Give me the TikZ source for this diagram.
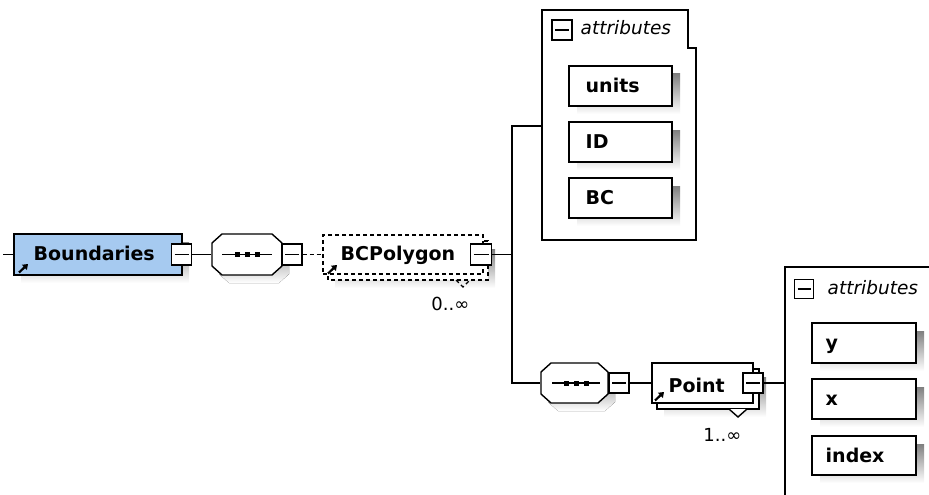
\documentclass[tikz,border=0pt]{standalone}
\usepackage{fontspec}
\setmainfont{DejaVu Sans}
\usetikzlibrary{arrows.meta}
\definecolor{elblue}{RGB}{166,202,240}
\definecolor{shade}{RGB}{190,190,190}
\begin{document}
\begin{tikzpicture}[x=1pt,y=-1pt, line width=1.4pt,
  box/.style={draw, rectangle, inner sep=0pt, fill=white},
  minusbox/.style={draw, fill=white, inner sep=0pt, minimum width=20, minimum height=21, line width=1.3pt,
    path picture={\draw[line width=1.3pt] ([xshift=3pt]path picture bounding box.west) -- ([xshift=-3pt]path picture bounding box.east);}},
  lbl/.style={font=\bfseries\fontsize{19}{22}\selectfont, inner sep=0pt, anchor=base west},
  ital/.style={font=\itshape\fontsize{18.5}{22}\selectfont, inner sep=0pt, anchor=base west},
  card/.style={font=\fontsize{18}{22}\selectfont, inner sep=0pt, anchor=base east},
  seqdot/.style={fill=black, draw=none, minimum size=5, inner sep=0pt},
  refarrow/.style={line width=2.2pt, -{Triangle[length=5pt,width=7pt]}},
  dsh/.style={dash pattern=on 4pt off 3pt},
  holder/.style={draw=none, inner sep=0pt}
]
\useasboundingbox (0,0) rectangle (929,495);
\clip (0,0) rectangle (929,495);

% ---- Boundaries
\fill[shade] (21,242) rectangle (189,283);
\node[box, fill=elblue, minimum width=168, minimum height=41, line width=1.5pt] (bnd) at (98,254.5) {};
\node[lbl] (bndt) at (33,260) {Boundaries};
\draw[refarrow] (19,272.5) -- (28,264);
\node[minusbox] (bndm) at (181.5,254.5) {};
\coordinate (start) at (3,254.5);
\draw (start) -- (bnd.west);

% ---- sequence 1
\fill[shade] (229,242) -- (279,242) -- (289,251) -- (289,274) -- (279,283) -- (229,283) -- (219,274) -- (219,251) -- cycle;
\draw[fill=white] (222,234) -- (272,234) -- (282,243) -- (282,266) -- (272,275) -- (222,275) -- (212,266) -- (212,243) -- cycle;
\node[holder, minimum width=70, minimum height=41] (seq1) at (247,254.5) {};
\draw (222,254.5) -- (272,254.5);
\node[seqdot] (s1a) at (237,254.5) {};
\node[seqdot] (s1b) at (247,254.5) {};
\node[seqdot] (s1c) at (257,254.5) {};
\node[minusbox] (seq1m) at (292,254.5) {};
\draw (bndm.east) -- (seq1.west);

% ---- BCPolygon
\fill[shade] (335,249) rectangle (495,288);
\draw[dsh, fill=white] (328,241) rectangle (488,280);
\node[box, dsh, minimum width=160, minimum height=39] (bcp) at (403,254.5) {};
\draw[dsh] (456,280) -- (463,287) -- (470,280);
\node[lbl] (bcpt) at (340,260) {BCPolygon};
\draw[refarrow] (328,273.5) -- (337,265);
\node[minusbox, minimum width=21] (bcpm) at (481,254.5) {};
\node[card] (bcpc) at (470,310) {0..∞};
\draw[dsh] (seq1m.east) -- (bcp.west);
\coordinate (j1) at (512,254.5);
\draw (bcpm.east) -- (j1);

% ---- attributes 1
\draw[fill=white] (542,10) -- (688,10) -- (688,48) -- (696,48) -- (696,240) -- (542,240) -- cycle;
\coordinate (a1in) at (542,126);
\node[minusbox, minimum width=20, minimum height=20] (a1m) at (562,30) {};
\node[ital] (a1t) at (580,35) {attributes};
\fill[shade] (577,74) rectangle (680,114);
\node[box, minimum width=103, minimum height=40] (units) at (620.5,86) {};
\node[lbl] (unitst) at (585,92.5) {units};
\fill[shade] (577,130) rectangle (680,170);
\node[box, minimum width=103, minimum height=40] (id) at (620.5,142) {};
\node[lbl] (idt) at (585,148.5) {ID};
\fill[shade] (577,186) rectangle (680,226);
\node[box, minimum width=103, minimum height=40] (bc) at (620.5,198) {};
\node[lbl] (bct) at (585,204.5) {BC};

% ---- sequence 2
\fill[shade] (558,371) -- (605,371) -- (615,380) -- (615,402) -- (605,411) -- (558,411) -- (548,402) -- (548,380) -- cycle;
\draw[fill=white] (551,363) -- (598,363) -- (608,372) -- (608,394) -- (598,403) -- (551,403) -- (541,394) -- (541,372) -- cycle;
\node[holder, minimum width=67, minimum height=40] (seq2) at (574.5,383) {};
\draw (552,383) -- (600,383);
\node[seqdot] (s2a) at (566,383) {};
\node[seqdot] (s2b) at (576,383) {};
\node[seqdot] (s2c) at (586,383) {};
\node[minusbox, minimum height=20] (seq2m) at (619,383) {};
\draw (a1in) -| (j1) |- (seq2.west);

% ---- Point
\fill[shade] (664,377) rectangle (766,417);
\draw[fill=white] (657,369) rectangle (759,409);
\node[box, minimum width=101, minimum height=40] (pt) at (702.5,383) {};
\draw[fill=white] (729,409) -- (738,417) -- (747,409);
\node[lbl] (ptt) at (668,392) {Point};
\draw[refarrow] (655,400.5) -- (664,392);
\node[minusbox, minimum height=20] (ptm) at (753,383) {};
\node[card] (ptc) at (742,441) {1..∞};
\draw (seq2m.east) -- (pt.west);
\coordinate (a2in) at (785,383);
\draw (ptm.east) -- (a2in);

% ---- attributes 2
\draw (940,267) -- (785,267) -- (785,505);
\node[minusbox, minimum width=19, minimum height=19] (a2m) at (804,289) {};
\node[ital] (a2t) at (827,294) {attributes};
\fill[shade] (820,331) rectangle (924,371);
\node[box, minimum width=104, minimum height=40] (ya) at (864,343) {};
\node[lbl] (yat) at (825,349.5) {y};
\fill[shade] (820,387) rectangle (924,427);
\node[box, minimum width=104, minimum height=40] (xa) at (864,399) {};
\node[lbl] (xat) at (825,405.5) {x};
\fill[shade] (820,444) rectangle (924,483);
\node[box, minimum width=104, minimum height=39] (ix) at (864,455.5) {};
\node[lbl] (ixt) at (825,462) {index};
\end{tikzpicture}
\end{document}
